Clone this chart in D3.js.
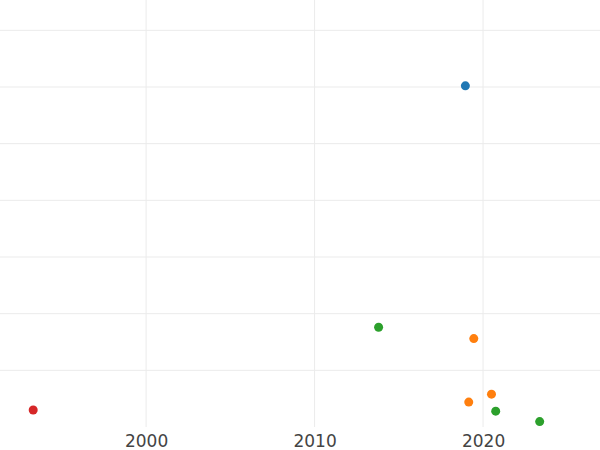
<!DOCTYPE html>
<html>
<head>
<meta charset="utf-8">
<script src="https://cdn.jsdelivr.net/npm/d3@7"></script>
<style>
  body { margin: 0; background: #fff; }
  svg { display: block; font-family: "DejaVu Sans", sans-serif; }
</style>
</head>
<body>
<div id="chart"></div>
<script>
var width = 600, height = 450, plotBottom = 427;

// values (y has no labels, so units are arbitrary)
var years  = [1993.3, 2018.95, 2013.8, 2019.45, 2019.15, 2020.5, 2020.75, 2023.36];
var values = [0.30,   6.02,    1.76,   1.56,    0.44,    0.58,   0.28,    0.095];
var groups = ["d",    "a",     "c",    "b",     "b",     "b",    "c",     "c"];
var groupNames = ["a", "b", "c", "d"];
var xTicks = [2000, 2010, 2020];
var yTicks = [1, 2, 3, 4, 5, 6, 7];

var x = d3.scaleLinear().domain([1991.33, 2026.94]).range([0, width]);
var y = d3.scaleLinear().domain([0, 7.535]).range([plotBottom, 0]);
var color = d3.scaleOrdinal().domain(groupNames)
              .range(["#1f77b4", "#ff7f0e", "#2ca02c", "#d62728"]);

var svg = d3.select("#chart").append("svg")
            .attr("width", width)
            .attr("height", height);

// grid
svg.append("g").selectAll("line.h")
   .data(yTicks)
   .enter().append("line")
     .attr("x1", 0).attr("x2", width)
     .attr("y1", d => y(d)).attr("y2", d => y(d))
     .attr("stroke", "#ebebeb");

svg.append("g").selectAll("line.v")
   .data(xTicks)
   .enter().append("line")
     .attr("x1", d => x(d)).attr("x2", d => x(d))
     .attr("y1", 0).attr("y2", plotBottom)
     .attr("stroke", "#ebebeb");

// x axis labels
var xAxis = svg.append("g")
   .attr("transform", "translate(0," + plotBottom + ")")
   .call(d3.axisBottom(x).tickValues(xTicks).tickFormat(d3.format("d")).tickSize(0).tickPadding(8));
xAxis.select(".domain").remove();
xAxis.selectAll("text")
     .attr("font-size", 17)
     .attr("font-family", "DejaVu Sans, sans-serif")
     .attr("fill", "#444");

// points
var points = years.map(function(d, i) { return { year: d, value: values[i], group: groups[i] }; });
svg.append("g").selectAll("circle")
   .data(points)
   .enter().append("circle")
     .attr("cx", d => x(d.year))
     .attr("cy", d => y(d.value))
     .attr("r", 4.5)
     .attr("fill", d => color(d.group));
</script>
</body>
</html>
